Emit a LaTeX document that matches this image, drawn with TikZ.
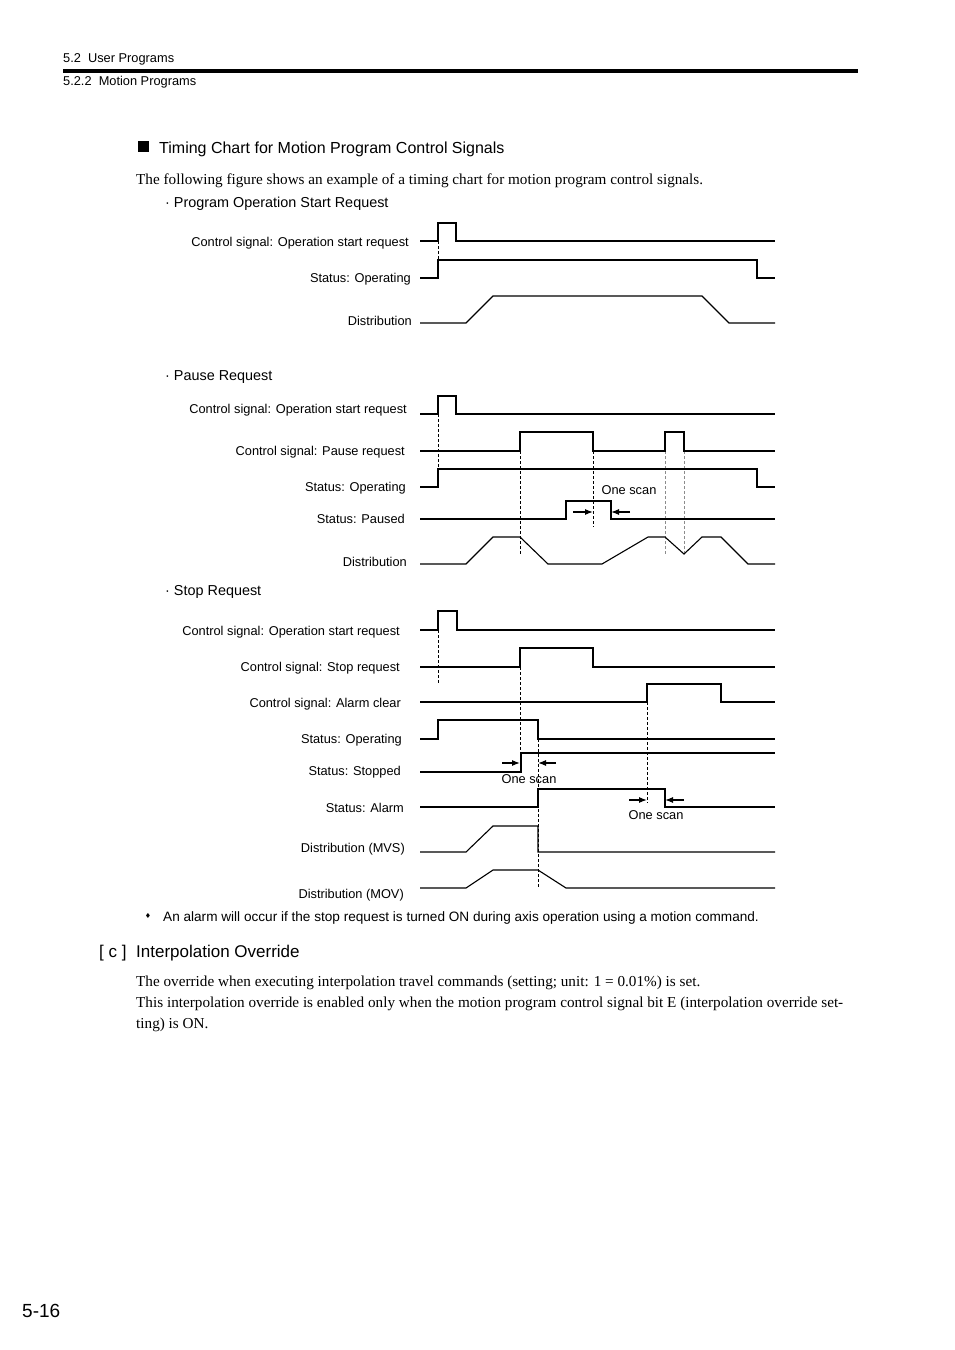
\documentclass[tikz,border=0pt]{standalone}
\usepackage{fontspec}
\setmainfont{Liberation Serif}
\newfontfamily\arial{Liberation Sans}
\newfontfamily\dejavu{DejaVu Sans}
\usetikzlibrary{arrows.meta}
\tikzset{
  sig/.style={line width=1.1pt, line join=miter},
  dsh/.style={line width=0.8pt, dash pattern=on 3pt off 2pt},
  gdsh/.style={dsh, draw=black!45},
  scanarrow/.style={line width=1.2pt, -{Latex[length=8pt,width=6pt]}},
  lab/.style={font=\arial\fontsize{12.8}{14}\selectfont, inner sep=0pt, text height=9.2pt, text depth=0pt, yshift=-1pt},
  sec/.style={font=\arial\fontsize{14.4}{16}\selectfont, inner sep=0pt, text height=10.3pt, text depth=0pt, anchor=west},
  para/.style={font=\fontsize{15.2}{17}\selectfont, inner sep=0pt, text height=10pt, text depth=0pt, anchor=west},
}
\begin{document}
\begin{tikzpicture}[x=1pt,y=-1pt]
\useasboundingbox (0,0) rectangle (954,1350);
\fill[white] (0,0) rectangle (954,1350);

% header
\node[lab, anchor=west] (h1) at (63,57) {5.2\ \ User Programs};
\fill (63,68.5) rectangle (858,72.5);
\node[lab, anchor=west] (h2) at (63,80) {5.2.2\ \ Motion Programs};

% title
\fill (138,141) rectangle (149,152);
\node[font=\arial\fontsize{16}{18}\selectfont, inner sep=0pt, text height=11.5pt, text depth=0pt, anchor=west] (title) at (159,148) {Timing Chart for Motion Program Control Signals};
\node[para] (intro) at (136,179) {The following figure shows an example of a timing chart for motion program control signals.};

% ---------- chart 1 ----------
\node[sec] (s1) at (165,202) {\textperiodcentered\ Program Operation Start Request};
\node[lab, anchor=east] (a1) at (409,241) {Control signal: Operation start request};
\node[lab, anchor=east] (a2) at (411,277) {Status: Operating};
\node[lab, anchor=east] (a3) at (412,320) {Distribution};
\draw[sig] (420,241) -- (438,241) -- (438,223) -- (456,223) -- (456,241) -- (775,241);
\draw[dsh] (438,241) -- (438,260);
\draw[sig] (420,278) -- (438,278) -- (438,260) -- (757,260) -- (757,278) -- (775,278);
\draw[sig] (420,323) -- (466,323) -- (493,296) -- (702,296) -- (729,323) -- (775,323);

% ---------- chart 2 ----------
\node[sec] (s2) at (165,375) {\textperiodcentered\ Pause Request};
\node[lab, anchor=east] (b1) at (407,408) {Control signal: Operation start request};
\node[lab, anchor=east] (b2) at (405,450) {Control signal: Pause request};
\node[lab, anchor=east] (b3) at (406,486) {Status: Operating};
\node[lab, anchor=east] (b4) at (405,518) {Status: Paused};
\node[lab, anchor=east] (b5) at (407,561) {Distribution};
\draw[dsh] (438,414) -- (438,469);
\draw[dsh] (520,451) -- (520,555);
\draw[dsh] (593,451) -- (593,527);
\draw[gdsh] (665,451) -- (665,555);
\draw[gdsh] (684,451) -- (684,554);
\draw[sig] (420,414) -- (438,414) -- (438,396) -- (456,396) -- (456,414) -- (775,414);
\draw[sig] (420,451) -- (520,451) -- (520,432) -- (593,432) -- (593,451) -- (665,451) -- (665,432) -- (684,432) -- (684,451) -- (775,451);
\draw[sig] (420,487) -- (438,487) -- (438,469) -- (757,469) -- (757,487) -- (775,487);
\draw[sig] (420,519) -- (566,519) -- (566,501) -- (611,501) -- (611,519) -- (775,519);
\draw[sig] (420,564) -- (466,564) -- (493,537) -- (520,537) -- (548,564) -- (602,564) -- (648,537) -- (665,537) -- (684,554) -- (702,537) -- (721,537) -- (748,564) -- (775,564);
\draw[scanarrow] (573,512) -- (593,512);
\draw[scanarrow] (630,512) -- (611,512);
\node[lab] (os1) at (629,489) {One scan};

% ---------- chart 3 ----------
\node[sec] (s3) at (165,590) {\textperiodcentered\ Stop Request};
\node[lab, anchor=east] (c1) at (400,630) {Control signal: Operation start request};
\node[lab, anchor=east] (c2) at (400,666) {Control signal: Stop request};
\node[lab, anchor=east] (c3) at (401,702) {Control signal: Alarm clear};
\node[lab, anchor=east] (c4) at (402,738) {Status: Operating};
\node[lab, anchor=east] (c5) at (401,770) {Status: Stopped};
\node[lab, anchor=east] (c6) at (404,807) {Status: Alarm};
\node[lab, anchor=east] (c7) at (405,847) {Distribution (MVS)};
\node[lab, anchor=east] (c8) at (404,893) {Distribution (MOV)};
\draw[dsh] (438,630) -- (438,683);
\draw[dsh] (520,667) -- (520,753);
\draw[dsh] (538,739) -- (538,888);
\draw[dsh] (647,702) -- (647,803);
\draw[sig] (420,630) -- (438,630) -- (438,611) -- (457,611) -- (457,630) -- (775,630);
\draw[sig] (420,667) -- (520,667) -- (520,648) -- (593,648) -- (593,667) -- (775,667);
\draw[sig] (420,702) -- (647,702) -- (647,684) -- (721,684) -- (721,702) -- (775,702);
\draw[sig] (420,739) -- (438,739) -- (438,720) -- (538,720) -- (538,739) -- (775,739);
\draw[sig] (420,772) -- (521,772) -- (521,753) -- (775,753);
\draw[sig] (420,807) -- (538,807) -- (538,789) -- (665,789) -- (665,807) -- (775,807);
\draw[sig] (420,852) -- (466,852) -- (493,826) -- (538,826) -- (538,852) -- (775,852);
\draw[sig] (420,888) -- (466,888) -- (493,870) -- (538,870) -- (566,888) -- (775,888);
\draw[scanarrow] (502,763) -- (520,763);
\draw[scanarrow] (556,763) -- (538,763);
\node[lab] (os2) at (529,778) {One scan};
\draw[scanarrow] (629,800) -- (647,800);
\draw[scanarrow] (684,800) -- (665,800);
\node[lab] (os3) at (656,814) {One scan};

% note
\node[font=\dejavu\fontsize{7}{8}\selectfont, inner sep=0pt] (bul) at (148,916) {♦};
\node[lab, anchor=west, font=\arial\fontsize{13.6}{15}\selectfont] (note) at (163,916) {An alarm will occur if the stop request is turned ON during axis operation using a motion command.};

% section c
\node[font=\arial\fontsize{17}{19}\selectfont, inner sep=0pt, text height=12.2pt, text depth=0pt, anchor=west] (cc) at (99,951) {[ c ]};
\node[font=\arial\fontsize{17}{19}\selectfont, inner sep=0pt, text height=12.2pt, text depth=0pt, anchor=west] (ct) at (136,951) {Interpolation Override};
\node[para] (p1) at (136,981) {The override when executing interpolation travel commands (setting; unit: 1 = 0.01\%) is set.};
\node[para] (p2) at (136,1002) {\makebox[707pt][s]{This interpolation override is enabled only when the motion program control signal bit E (interpolation override set-}};
\node[para] (p3) at (136,1023) {ting) is ON.};

% page number
\node[font=\arial\fontsize{19}{21}\selectfont, inner sep=0pt, text height=13.6pt, text depth=0pt, anchor=west] (pg) at (22,1311) {5-16};
\end{tikzpicture}
\end{document}
